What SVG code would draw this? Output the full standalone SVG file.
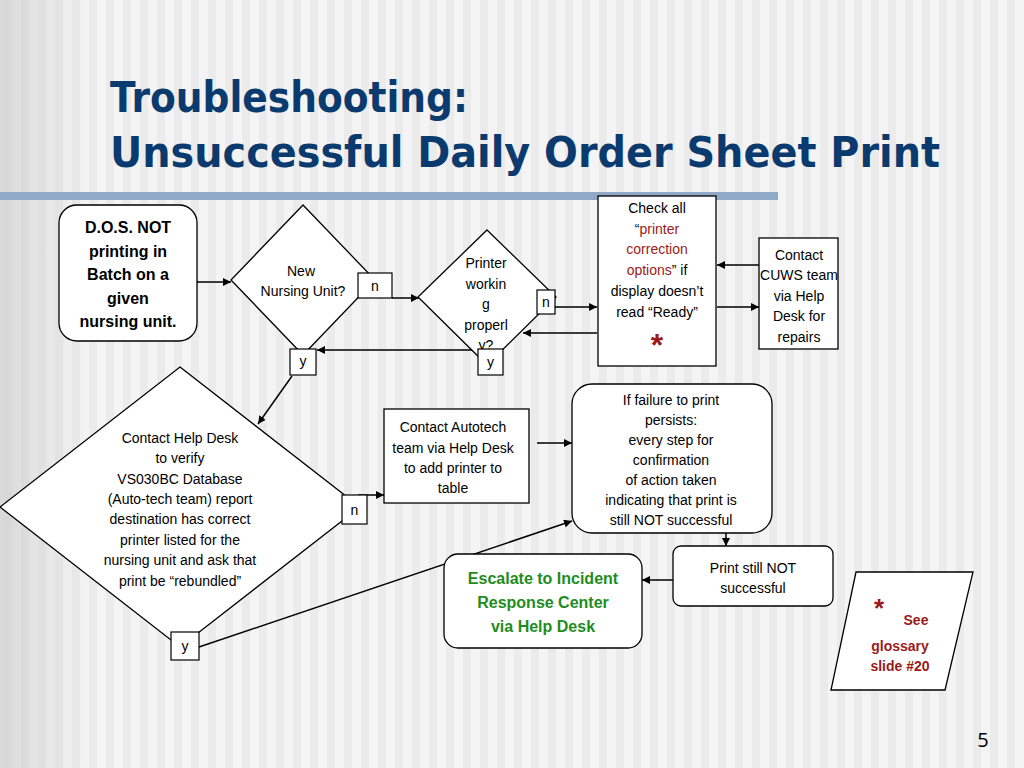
<svg xmlns="http://www.w3.org/2000/svg" width="1024" height="768" viewBox="0 0 1024 768">
<defs>
<pattern id="stripes" x="0" y="0" width="17" height="768" patternUnits="userSpaceOnUse">
<rect x="0" y="0" width="17" height="768" fill="#f4f4f4"/>
<rect x="4" y="0" width="8" height="768" fill="#ebebeb"/>
</pattern>
<linearGradient id="leftShade" x1="0" y1="0" x2="1" y2="0">
<stop offset="0" stop-color="#c8c8c8" stop-opacity="0.6"/>
<stop offset="1" stop-color="#c8c8c8" stop-opacity="0"/>
</linearGradient>
<marker id="ah" viewBox="0 0 10 10" refX="10" refY="5" markerWidth="8" markerHeight="8" markerUnits="userSpaceOnUse" orient="auto">
<path d="M0,0 L10,5 L0,10 z" fill="#000"/>
</marker>
<style>
.shape{fill:#fff;stroke:#000;stroke-width:1.3}
.lbl{fill:#fff;stroke:#000;stroke-width:1.2}
.t{font-family:"Liberation Sans",Arial,sans-serif;font-size:14px;fill:#000;text-anchor:middle}
.tb{font-family:"Liberation Sans",Arial,sans-serif;font-size:16px;font-weight:bold;fill:#000;text-anchor:middle}
.tg{font-family:"Liberation Sans",Arial,sans-serif;font-size:16px;font-weight:bold;fill:#1e8c1e;text-anchor:middle}
.red{fill:#9b1a1a}
.tr{font-family:"Liberation Sans",Arial,sans-serif;font-size:14px;font-weight:bold;fill:#9b1a1a;text-anchor:middle}
.conn line{stroke:#000;stroke-width:1.5;marker-end:url(#ah)}
.title{font-family:"DejaVu Sans",sans-serif;font-weight:bold;font-size:42px;fill:#0b3a6e}
</style>
</defs>
<rect x="0" y="0" width="1024" height="768" fill="url(#stripes)"/>
<rect x="0" y="0" width="90" height="768" fill="url(#leftShade)"/>
<rect x="0" y="192" width="778" height="8" fill="#8fa9c6"/>

<g id="title">
<text class="title" x="110" y="112" textLength="358" lengthAdjust="spacingAndGlyphs">Troubleshooting:</text>
<text class="title" x="110" y="167" textLength="830" lengthAdjust="spacingAndGlyphs">Unsuccessful Daily Order Sheet Print</text>
</g>

<g id="connectors" class="conn">
<line x1="197" y1="282" x2="231" y2="282"/>
<line x1="392" y1="298" x2="419" y2="298"/>
<line x1="555" y1="307" x2="597" y2="307"/>
<line x1="597" y1="333" x2="523" y2="333"/>
<line x1="759" y1="265" x2="717" y2="265"/>
<line x1="717" y1="307" x2="759" y2="307"/>
<line x1="478" y1="350" x2="317" y2="350"/>
<line x1="292" y1="376" x2="258" y2="424"/>
<line x1="358" y1="495" x2="384" y2="495"/>
<line x1="537" y1="443" x2="572" y2="443"/>
<line x1="199" y1="647" x2="572" y2="521"/>
<line x1="726" y1="533" x2="726" y2="546"/>
<line x1="673" y1="580" x2="642" y2="580"/>
</g>

<g id="start">
<rect class="shape" x="59" y="205" width="138" height="136" rx="18"/>
<text class="tb"><tspan x="128" y="233">D.O.S. NOT</tspan><tspan x="128" y="256.5">printing in</tspan><tspan x="128" y="280">Batch on a</tspan><tspan x="128" y="303.5">given</tspan><tspan x="128" y="327">nursing unit.</tspan></text>
</g>

<g id="newUnit">
<polygon class="shape" points="303,205 375,280 303,355 231,280"/>
<text class="t"><tspan x="301" y="276">New</tspan><tspan x="303" y="296">Nursing Unit?</tspan></text>
</g>
<g id="newUnit-n">
<rect class="lbl" x="358" y="273" width="34" height="25"/>
<text class="t" x="375" y="291">n</text>
</g>
<g id="newUnit-y">
<rect class="lbl" x="290" y="349" width="26" height="26"/>
<text class="t" x="303" y="366">y</text>
</g>

<g id="printerOk">
<polygon class="shape" points="487,230 556,297 487,365 418,297"/>
<text class="t"><tspan x="486" y="268">Printer</tspan><tspan x="486" y="289">workin</tspan><tspan x="486" y="309">g</tspan><tspan x="486" y="330">properl</tspan><tspan x="486" y="350">y?</tspan></text>
</g>
<g id="printerOk-n">
<rect class="lbl" x="537" y="290" width="18" height="24"/>
<text class="t" x="546" y="307">n</text>
</g>
<g id="printerOk-y">
<rect class="lbl" x="478" y="349" width="25" height="26"/>
<text class="t" x="490.5" y="367">y</text>
</g>

<g id="checkAll">
<rect class="shape" x="598" y="196" width="118" height="170"/>
<text class="t"><tspan x="657" y="213">Check all</tspan><tspan x="657" y="234">“<tspan class="red">printer</tspan></tspan><tspan x="657" y="254" class="red">correction</tspan><tspan x="657" y="275"><tspan class="red">options</tspan>” if</tspan><tspan x="657" y="296">display doesn’t</tspan><tspan x="657" y="317">read “Ready”</tspan></text>
<text x="657" y="356" font-family="Liberation Sans,Arial,sans-serif" font-size="32" font-weight="bold" fill="#9b1a1a" text-anchor="middle">*</text>
</g>

<g id="cuws">
<rect class="shape" x="759" y="238" width="79" height="111"/>
<text class="t"><tspan x="799" y="260">Contact</tspan><tspan x="799" y="280">CUWS team</tspan><tspan x="799" y="301">via Help</tspan><tspan x="799" y="321">Desk for</tspan><tspan x="799" y="342">repairs</tspan></text>
</g>

<g id="helpDesk">
<polygon class="shape" points="180,367 360,507 180,647 0,507"/>
<text class="t"><tspan x="180" y="443">Contact Help Desk</tspan><tspan x="180" y="463">to verify</tspan><tspan x="180" y="484">VS030BC Database</tspan><tspan x="180" y="504">(Auto-tech team) report</tspan><tspan x="180" y="524">destination has correct</tspan><tspan x="180" y="545">printer listed for the</tspan><tspan x="180" y="565">nursing unit and ask that</tspan><tspan x="180" y="586">print be “rebundled”</tspan></text>
</g>
<g id="helpDesk-n">
<rect class="lbl" x="342" y="495" width="25" height="29"/>
<text class="t" x="354.5" y="515">n</text>
</g>
<g id="helpDesk-y">
<rect class="lbl" x="171" y="632" width="28" height="28"/>
<text class="t" x="185" y="651">y</text>
</g>

<g id="autotech">
<rect class="shape" x="384" y="409" width="145" height="94"/>
<text class="t"><tspan x="453" y="432">Contact Autotech</tspan><tspan x="453" y="452.5">team via Help Desk</tspan><tspan x="453" y="473">to add printer to</tspan><tspan x="453" y="493">table</tspan></text>
</g>

<g id="failure">
<rect class="shape" x="572" y="384" width="200" height="149" rx="20"/>
<text class="t"><tspan x="671" y="405">If failure to print</tspan><tspan x="671" y="425">persists:</tspan><tspan x="671" y="445">every step for</tspan><tspan x="671" y="465">confirmation</tspan><tspan x="671" y="485">of action taken</tspan><tspan x="671" y="505">indicating that print is</tspan><tspan x="671" y="525">still NOT successful</tspan></text>
</g>

<g id="stillNot">
<rect class="shape" x="673" y="546" width="160" height="60" rx="8"/>
<text class="t"><tspan x="753" y="573">Print still NOT</tspan><tspan x="753" y="593">successful</tspan></text>
</g>

<g id="escalate">
<rect class="shape" x="444" y="554" width="198" height="94" rx="14"/>
<text class="tg"><tspan x="543" y="584">Escalate to Incident</tspan><tspan x="543" y="608">Response Center</tspan><tspan x="543" y="632">via Help Desk</tspan></text>
</g>

<g id="glossary">
<polygon class="shape" points="856,572 973,572 945,690 831,690"/>
<text x="879" y="617" font-family="Liberation Sans,Arial,sans-serif" font-size="26" font-weight="bold" fill="#9b1a1a" text-anchor="middle">*</text>
<text class="tr"><tspan x="916" y="625">See</tspan><tspan x="900" y="651">glossary</tspan><tspan x="900" y="671">slide #20</tspan></text>
</g>

<text x="983" y="747" font-family="Open Sans,Liberation Sans,sans-serif" font-size="20" fill="#000" text-anchor="middle">5</text>
</svg>
